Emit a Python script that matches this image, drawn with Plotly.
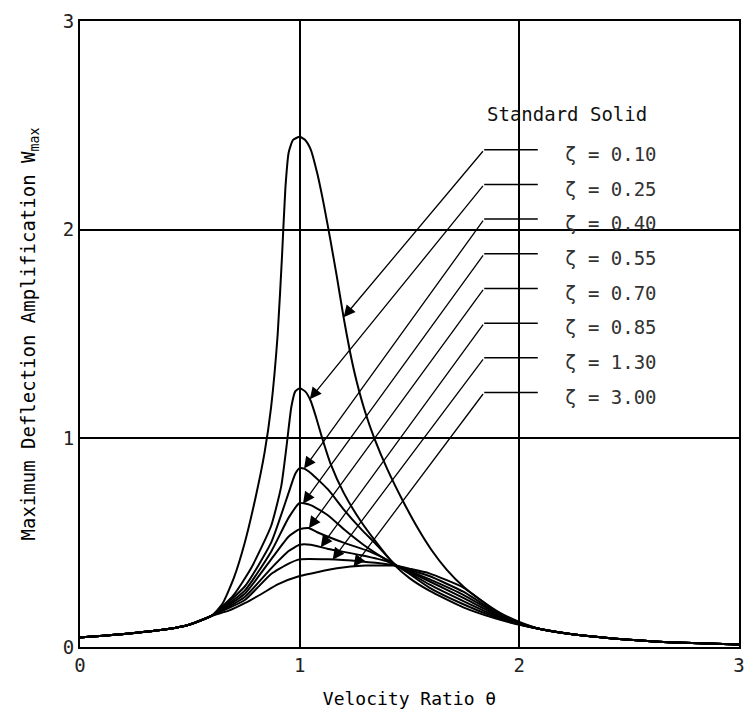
import numpy as np
import plotly.graph_objects as go

# ---------------- data ----------------
zeta_labels = ["0.10", "0.25", "0.40", "0.55", "0.70", "0.85", "1.30", "3.00"]

theta_z010 = [0.0, 0.2, 0.4, 0.5, 0.6, 0.65, 0.70, 0.75, 0.80, 0.84, 0.87, 0.90, 0.92, 0.935, 0.95, 0.97, 1.0,
              1.025, 1.05, 1.08, 1.11, 1.14, 1.17, 1.20, 1.23, 1.26, 1.30, 1.34, 1.40, 1.47, 1.54, 1.60, 1.67,
              1.75, 1.83, 1.91, 2.0, 2.1, 2.25, 2.5, 2.75, 3.0]
w_z010 = [0.045, 0.062, 0.086, 0.108, 0.15, 0.21, 0.33, 0.50, 0.72, 0.93, 1.15, 1.50, 1.88, 2.2, 2.37, 2.43, 2.445,
          2.43, 2.385, 2.27, 2.12, 1.95, 1.77, 1.58, 1.41, 1.27, 1.12, 1.0, 0.85, 0.70, 0.565, 0.465, 0.37,
          0.285, 0.22, 0.165, 0.12, 0.085, 0.06, 0.035, 0.02, 0.012]

theta_z025 = [0.0, 0.2, 0.4, 0.5, 0.6, 0.70, 0.78, 0.87, 0.916, 0.94, 0.962, 0.98, 1.0, 1.025, 1.05, 1.075, 1.10,
              1.14, 1.20, 1.28, 1.35, 1.43, 1.50, 1.59, 1.745, 1.89, 1.985, 2.1, 2.25, 2.5, 2.75, 3.0]
w_z025 = [0.045, 0.062, 0.086, 0.108, 0.15, 0.25, 0.38, 0.58, 0.77, 0.96, 1.15, 1.225, 1.24, 1.225, 1.18, 1.10, 1.01,
          0.88, 0.74, 0.60, 0.50, 0.395, 0.33, 0.27, 0.19, 0.137, 0.11, 0.085, 0.06, 0.035, 0.02, 0.012]

theta_z040 = [0.0, 0.2, 0.4, 0.5, 0.6, 0.75, 0.87, 0.95, 0.98, 1.0, 1.02, 1.05, 1.13, 1.20, 1.28, 1.35, 1.43,
              1.50, 1.59, 1.745, 1.89, 1.985, 2.1, 2.25, 2.5, 2.75, 3.0]
w_z040 = [0.045, 0.062, 0.086, 0.108, 0.15, 0.29, 0.50, 0.74, 0.83, 0.857, 0.855, 0.834, 0.754, 0.66, 0.565, 0.49,
          0.40, 0.35, 0.285, 0.205, 0.143, 0.112, 0.085, 0.06, 0.035, 0.02, 0.012]

theta_z055 = [0.0, 0.2, 0.4, 0.5, 0.6, 0.75, 0.87, 0.95, 1.0, 1.05, 1.13, 1.20, 1.29, 1.385, 1.43,
              1.50, 1.59, 1.745, 1.89, 1.985, 2.1, 2.25, 2.5, 2.75, 3.0]
w_z055 = [0.045, 0.062, 0.086, 0.108, 0.15, 0.27, 0.457, 0.62, 0.69, 0.68, 0.63, 0.565, 0.49, 0.424, 0.395,
          0.355, 0.30, 0.22, 0.15, 0.114, 0.085, 0.06, 0.035, 0.02, 0.012]

theta_z070 = [0.0, 0.2, 0.4, 0.5, 0.6, 0.75, 0.87, 0.95, 1.0, 1.04, 1.08, 1.20, 1.32, 1.41, 1.43,
              1.50, 1.59, 1.745, 1.89, 1.985, 2.1, 2.25, 2.5, 2.75, 3.0]
w_z070 = [0.045, 0.062, 0.086, 0.108, 0.15, 0.255, 0.42, 0.53, 0.565, 0.57, 0.55, 0.50, 0.457, 0.41, 0.395,
          0.36, 0.315, 0.235, 0.157, 0.115, 0.085, 0.06, 0.035, 0.02, 0.012]

theta_z085 = [0.0, 0.2, 0.4, 0.5, 0.6, 0.75, 0.87, 0.95, 1.0, 1.05, 1.13, 1.28, 1.40, 1.43,
              1.50, 1.59, 1.745, 1.89, 1.985, 2.1, 2.25, 2.5, 2.75, 3.0]
w_z085 = [0.045, 0.062, 0.086, 0.108, 0.15, 0.24, 0.377, 0.46, 0.49, 0.49, 0.47, 0.44, 0.41, 0.395,
          0.365, 0.325, 0.25, 0.163, 0.116, 0.085, 0.06, 0.035, 0.02, 0.012]

theta_z130 = [0.0, 0.2, 0.4, 0.5, 0.6, 0.75, 0.87, 0.95, 1.0, 1.13, 1.28, 1.40, 1.43,
              1.50, 1.59, 1.745, 1.89, 1.985, 2.1, 2.25, 2.5, 2.75, 3.0]
w_z130 = [0.045, 0.062, 0.086, 0.108, 0.15, 0.225, 0.35, 0.40, 0.42, 0.42, 0.41, 0.397, 0.392,
          0.37, 0.34, 0.265, 0.168, 0.118, 0.085, 0.06, 0.035, 0.02, 0.012]

theta_z300 = [0.0, 0.2, 0.4, 0.5, 0.6, 0.677, 0.75, 0.826, 0.9, 1.0, 1.17, 1.30, 1.43,
              1.50, 1.59, 1.745, 1.89, 1.985, 2.1, 2.25, 2.5, 2.75, 3.0]
w_z300 = [0.045, 0.062, 0.086, 0.108, 0.15, 0.174, 0.21, 0.254, 0.30, 0.34, 0.377, 0.39, 0.39,
          0.375, 0.353, 0.285, 0.174, 0.12, 0.085, 0.06, 0.035, 0.02, 0.012]

series_theta = [theta_z010, theta_z025, theta_z040, theta_z055, theta_z070, theta_z085, theta_z130, theta_z300]
series_w = [w_z010, w_z025, w_z040, w_z055, w_z070, w_z085, w_z130, w_z300]

# theta at which each label's arrow touches its curve
arrow_theta = [1.20, 1.046, 1.02, 1.015, 1.042, 1.096, 1.15, 1.245]

x_ticks = [0, 1, 2, 3]
y_ticks = [0, 1, 2, 3]

# ---------------- figure ----------------
MONO = "DejaVu Sans Mono"
fig = go.Figure()

for th, w in zip(series_theta, series_w):
    fig.add_trace(go.Scatter(x=th, y=w, mode="lines",
                             line=dict(color="black", width=2, shape="spline", smoothing=0.5),
                             showlegend=False, hoverinfo="skip"))

# leader lines + arrows + labels
leader_x0, leader_x1, text_x = 1.84, 2.084, 2.197
top_y, step_y = 2.383, 0.1662
for i, (lab, ta) in enumerate(zip(zeta_labels, arrow_theta)):
    ly = top_y - i * step_y
    tip_y = float(np.interp(ta, series_theta[i], series_w[i]))
    fig.add_shape(type="line", x0=leader_x0, x1=leader_x1, y0=ly, y1=ly,
                  xref="x", yref="y", line=dict(color="black", width=1.5))
    fig.add_annotation(x=ta, y=tip_y, ax=leader_x0, ay=ly, axref="x", ayref="y",
                       xref="x", yref="y", text="", showarrow=True,
                       arrowhead=2, arrowsize=1.8, arrowwidth=1.3, arrowcolor="black", standoff=0)
    fig.add_annotation(x=text_x, y=ly - 0.02, text="\u03b6 = " + lab, showarrow=False,
                       xanchor="left", yanchor="middle", xref="x", yref="y",
                       font=dict(family=MONO, size=19, color="#333"))

fig.add_annotation(x=1.845, y=2.553, text="Standard Solid", showarrow=False,
                   xanchor="left", yanchor="middle", xref="x", yref="y",
                   font=dict(family=MONO, size=19, color="#111"))

fig.update_layout(
    width=755, height=725,
    margin=dict(l=80, r=10, t=10, b=78),
    paper_bgcolor="white", plot_bgcolor="white",
    font=dict(family=MONO, color="black"),
    xaxis=dict(range=[0, 3], tickvals=x_ticks, ticktext=[str(v) for v in x_ticks],
               showgrid=True, gridcolor="black", gridwidth=1.5, zeroline=False,
               showline=True, linecolor="black", linewidth=2, mirror=True, ticks="",
               tickfont=dict(family=MONO, size=19, color="#222"),
               title=dict(text="Velocity Ratio \u03b8", font=dict(family=MONO, size=18), standoff=18)),
    yaxis=dict(range=[0, 3], tickvals=y_ticks, ticktext=[str(v) for v in y_ticks],
               showgrid=True, gridcolor="black", gridwidth=1.5, zeroline=False,
               showline=True, linecolor="black", linewidth=2, mirror=True, ticks="",
               tickfont=dict(family=MONO, size=19, color="#222"),
               title=dict(text="Maximum Deflection Amplification W<sub>max</sub>",
                          font=dict(family=MONO, size=19), standoff=22)),
)

fig.write_html("out.html", config={"displayModeBar": False},
               post_script="document.body.style.margin='0';")
